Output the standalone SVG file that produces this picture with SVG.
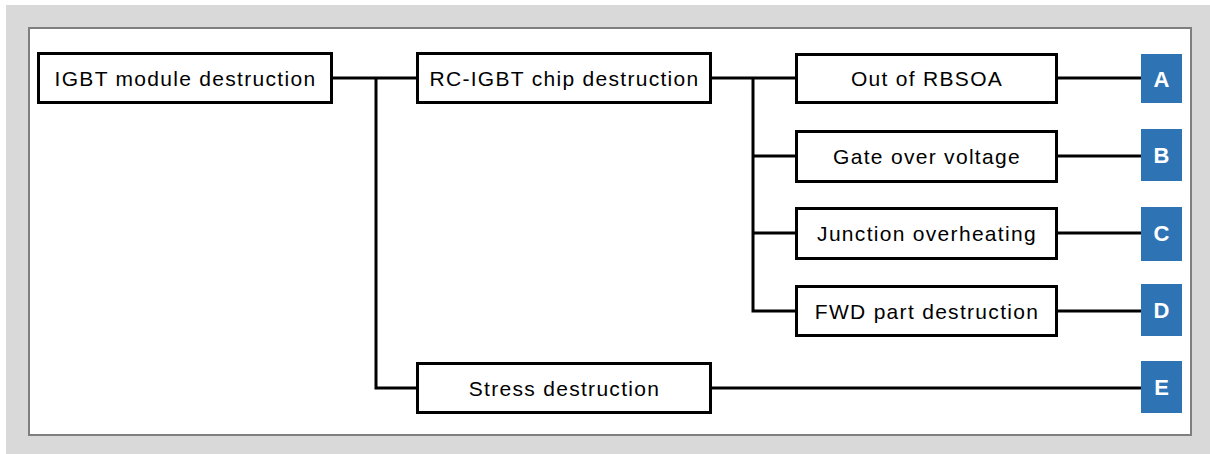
<svg xmlns="http://www.w3.org/2000/svg" width="1210" height="454" viewBox="0 0 1210 454">
<style>
.box{fill:#fff;stroke:#000;stroke-width:3}
.lbl{font-family:"Liberation Sans",Arial,sans-serif;font-size:21px;fill:#000;text-anchor:middle;letter-spacing:1.3px}
.tag{fill:#2E74B5}
.tagt{font-family:"Liberation Sans",Arial,sans-serif;font-size:22px;font-weight:bold;fill:#fff;text-anchor:middle}
.con{fill:none;stroke:#000;stroke-width:3}
</style>
<rect x="0" y="0" width="1210" height="454" fill="#fff"/>
<rect x="6" y="5" width="1204" height="449" fill="#d9d9d9"/>
<rect x="29" y="28" width="1162" height="407" fill="#fff" stroke="#7f7f7f" stroke-width="2"/>
<g id="connectors">
<path class="con" d="M333 78 H416 M376 78 V388 H416"/>
<path class="con" d="M712 78 H795 M753 78 V311 H795 M753 156 H795 M753 233 H795"/>
<path class="con" d="M1058 78 H1141 M1058 156 H1141 M1058 233 H1141 M1058 311 H1141 M712 388 H1141"/>
</g>
<g id="n-module"><rect class="box" x="38.5" y="53.5" width="293" height="49"/><text class="lbl" x="185.5" y="85.5">IGBT module destruction</text></g>
<g id="n-chip"><rect class="box" x="417.5" y="53.5" width="293" height="49"/><text class="lbl" x="564.5" y="85.5">RC-IGBT chip destruction</text></g>
<g id="n-rbsoa"><rect class="box" x="796.5" y="54.5" width="260" height="48"/><text class="lbl" x="927" y="86">Out of RBSOA</text></g>
<g id="n-gate"><rect class="box" x="796.5" y="131.5" width="260" height="50"/><text class="lbl" x="927" y="164">Gate over voltage</text></g>
<g id="n-junction"><rect class="box" x="796.5" y="208.5" width="260" height="50"/><text class="lbl" x="927" y="241">Junction overheating</text></g>
<g id="n-fwd"><rect class="box" x="796.5" y="286.5" width="260" height="49"/><text class="lbl" x="927" y="319">FWD part destruction</text></g>
<g id="n-stress"><rect class="box" x="417.5" y="363.5" width="293" height="49"/><text class="lbl" x="564.5" y="395.5">Stress destruction</text></g>
<g id="t-a"><rect class="tag" x="1141" y="54" width="41" height="49"/><text class="tagt" x="1161.5" y="86.5">A</text></g>
<g id="t-b"><rect class="tag" x="1141" y="129" width="41" height="52"/><text class="tagt" x="1161.5" y="163">B</text></g>
<g id="t-c"><rect class="tag" x="1141" y="207" width="41" height="54"/><text class="tagt" x="1161.5" y="241">C</text></g>
<g id="t-d"><rect class="tag" x="1141" y="284" width="41" height="52"/><text class="tagt" x="1161.5" y="318">D</text></g>
<g id="t-e"><rect class="tag" x="1141" y="361" width="41" height="52"/><text class="tagt" x="1161.5" y="395">E</text></g>
</svg>
